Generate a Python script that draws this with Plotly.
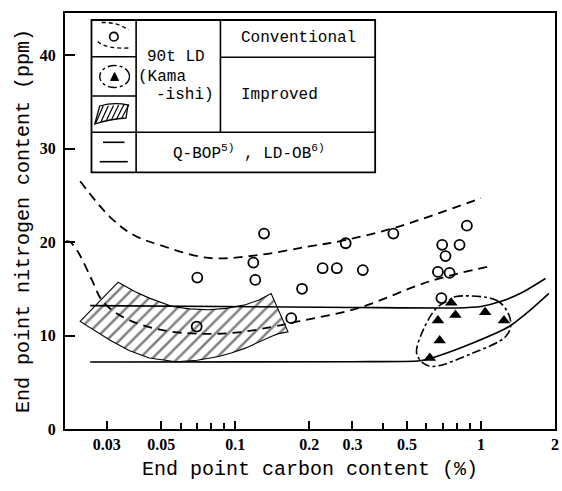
import plotly.graph_objects as go
import numpy as np

# ---------------- data ----------------
conv_x = [0.0701, 0.0697, 0.1185, 0.1207, 0.131, 0.169, 0.187, 0.2268, 0.259, 0.2815,
          0.3305, 0.44, 0.668, 0.69, 0.695, 0.717, 0.745, 0.818, 0.876]
conv_y = [16.2, 10.96, 17.8, 15.95, 20.9, 11.86, 15.0, 17.2, 17.2, 19.87,
          17.0, 20.9, 16.8, 14.0, 19.7, 18.5, 16.7, 19.7, 21.75]

imp_x = [0.619, 0.679, 0.668, 0.757, 0.787, 1.04, 1.24]
imp_y = [7.6, 9.47, 11.6, 13.5, 12.2, 12.5, 11.6]

conv_upper_x = [0.0234, 0.0309, 0.0383, 0.0491, 0.0781, 0.124, 0.197, 0.28, 0.455, 1.0]
conv_upper_y = [26.5, 22.7, 20.8, 19.7, 18.3, 18.6, 19.5, 20.2, 21.6, 24.7]

conv_lower_x = [0.0205, 0.0213, 0.0231, 0.0261, 0.029, 0.036, 0.05, 0.07, 0.1, 0.14, 0.18, 0.3135, 0.619, 1.08]
conv_lower_y = [20.1, 20.0, 18.8, 15.95, 13.6, 11.8, 10.6, 10.2, 10.3, 10.9, 11.5, 12.9, 15.8, 17.4]

imp_loop_x = [0.793, 1.149, 1.281, 1.321, 1.261, 0.926, 0.639, 0.582, 0.547, 0.582, 0.659, 0.745, 0.793]
imp_loop_y = [14.17, 13.8, 12.56, 11.14, 9.89, 8.12, 6.69, 7.05, 8.12, 10.6, 12.93, 13.8, 14.17]

hatch_x = [0.0334, 0.039, 0.0447, 0.05, 0.0555, 0.065, 0.078, 0.092, 0.11, 0.125, 0.14,
           0.164, 0.15, 0.14, 0.125, 0.11, 0.097, 0.0857, 0.07, 0.0573, 0.0447, 0.037, 0.031, 0.027, 0.0234, 0.0334]
hatch_y = [15.7, 14.7, 14.0, 13.5, 13.1, 12.85, 12.75, 12.9, 13.3, 13.8, 14.5,
           10.4, 10.2, 9.9, 9.3, 8.65, 8.15, 7.76, 7.35, 7.2, 7.6, 8.4, 9.5, 10.5, 11.5, 15.7]

qbop_upper_x = [0.0257, 0.3, 0.793, 1.0, 1.19, 1.47, 1.83]
qbop_upper_y = [13.2, 13.0, 12.95, 13.1, 13.6, 14.6, 16.1]

qbop_lower_x = [0.0257, 0.3, 0.564, 0.66, 0.926, 1.30, 1.6, 1.89]
qbop_lower_y = [7.16, 7.2, 7.3, 7.76, 9.19, 10.96, 12.8, 14.5]

x_tickvals = [0.03, 0.05, 0.1, 0.2, 0.3, 0.5, 1, 2]
x_ticktext = ["0.03", "0.05", "0.1", "0.2", "0.3", "0.5", "1", "2"]
x_minor = [0.06, 0.07, 0.08, 0.09, 0.4, 0.6, 0.7, 0.8, 0.9]
y_tickvals = [0, 10, 20, 30, 40]

# ---------------- layout geometry ----------------
W, H = 562, 491
L, R, T, B = 65, 3, 13, 62
PW, PH = W - L - R, H - T - B


def px(x):
    return (x - L) / PW


def py(y):
    return (H - B - y) / PH


MONO = "Liberation Mono, DejaVu Sans Mono, monospace"
SERIF = "Liberation Serif, DejaVu Serif, serif"

fig = go.Figure()

dashstyle = "9px,6px"

fig.add_trace(go.Scatter(x=hatch_x, y=hatch_y, mode="lines", fill="toself",
                         fillcolor="rgba(0,0,0,0)",
                         fillpattern=dict(shape="/", fgcolor="black", bgcolor="rgba(0,0,0,0)",
                                          size=9, solidity=0.28),
                         line=dict(color="black", width=1.1),
                         hoverinfo="skip"))

fig.add_trace(go.Scatter(x=conv_upper_x, y=conv_upper_y, mode="lines",
                         line=dict(color="black", width=1.8, dash=dashstyle, shape="spline")))
fig.add_trace(go.Scatter(x=conv_lower_x, y=conv_lower_y, mode="lines",
                         line=dict(color="black", width=1.8, dash=dashstyle, shape="spline")))

fig.add_trace(go.Scatter(x=qbop_upper_x, y=qbop_upper_y, mode="lines",
                         line=dict(color="black", width=1.6, shape="spline", smoothing=0.6)))
fig.add_trace(go.Scatter(x=qbop_lower_x, y=qbop_lower_y, mode="lines",
                         line=dict(color="black", width=1.6, shape="spline", smoothing=0.6)))

fig.add_trace(go.Scatter(x=imp_loop_x, y=imp_loop_y, mode="lines",
                         line=dict(color="black", width=1.6, dash="dashdot", shape="spline")))

fig.add_trace(go.Scatter(x=conv_x, y=conv_y, mode="markers",
                         marker=dict(symbol="circle-open", size=10, color="black",
                                     line=dict(width=1.8, color="black"))))
fig.add_trace(go.Scatter(x=imp_x, y=imp_y, mode="markers",
                         marker=dict(symbol="triangle-up", size=11, color="black")))

# ---------------- legend table ----------------
shapes = []


def seg(x0, y0, x1, y1, w=1.6, dash=None):
    d = dict(type="line", xref="paper", yref="paper", x0=px(x0), y0=py(y0), x1=px(x1), y1=py(y1),
             line=dict(color="black", width=w))
    if dash:
        d["line"]["dash"] = dash
    shapes.append(d)


tl, tr, tt, tb = 91.7, 377.7, 20, 172.3
c1, c2 = 136.7, 221.7
shapes.append(dict(type="rect", xref="paper", yref="paper", x0=px(tl), x1=px(tr), y0=py(tb), y1=py(tt),
                   line=dict(color="black", width=1.8), fillcolor="white", layer="above"))
seg(c1, tt, c1, tb)
seg(c2, tt, c2, 132.3)
seg(tl, 56.7, c1, 56.7)
seg(tl, 96, c1, 96)
seg(tl, 132.3, tr, 132.3)
seg(c2, 57.3, tr, 57.3)

# icon 1: circle with dashed arcs
shapes.append(dict(type="circle", xref="paper", yref="paper", x0=px(110), x1=px(118.6),
                   y0=py(41), y1=py(32.4), line=dict(color="black", width=1.6)))


def qpath(p0, c, p1):
    return "M %f,%f Q %f,%f %f,%f" % (px(p0[0]), py(p0[1]), px(c[0]), py(c[1]), px(p1[0]), py(p1[1]))


shapes.append(dict(type="path", xref="paper", yref="paper", path=qpath((102, 22.5), (118, 22), (129, 30)),
                   line=dict(color="black", width=1.4, dash="4px,3px")))
shapes.append(dict(type="path", xref="paper", yref="paper", path=qpath((98, 41.5), (106, 49), (129, 48)),
                   line=dict(color="black", width=1.4, dash="4px,3px")))

# icon 2: dash-dot ellipse with triangle
shapes.append(dict(type="circle", xref="paper", yref="paper", x0=px(100), x1=px(130),
                   y0=py(87.5), y1=py(65.5), line=dict(color="black", width=1.4, dash="dashdot")))
shapes.append(dict(type="path", xref="paper", yref="paper",
                   path="M %f,%f L %f,%f L %f,%f Z" % (px(111), py(80.5), px(119), py(80.5), px(115), py(72.5)),
                   fillcolor="black", line=dict(color="black", width=1)))

# icon 3: hatched patch
shapes.append(dict(type="path", xref="paper", yref="paper",
                   path="M %f,%f Q %f,%f %f,%f L %f,%f Q %f,%f %f,%f Z" % (
                       px(100), py(106), px(114), py(102), px(128.5), py(105),
                       px(126.5), py(118), px(110), py(119), px(95), py(124)),
                   line=dict(color="black", width=1.3)))
for k in range(6):
    x0 = 96 + k * 5.2
    seg(x0, 123 - k * 0.9, x0 + 7.5, 106 - k * 0.3, w=1.2)

# icon 4: two lines
seg(103.3, 142.3, 125, 142.3)
seg(100, 161.7, 128.3, 161.7)

annotations = []


def txt(x, y, s, xanchor="center", size=16):
    annotations.append(dict(x=px(x), y=py(y), xref="paper", yref="paper", text=s, showarrow=False,
                            xanchor=xanchor, yanchor="middle",
                            font=dict(family=MONO, size=size, color="black")))


txt(177, 56.7, "90t LD")
txt(136.5, 76.7, "(Kama", xanchor="left")
txt(155, 95, "-ishi)", xanchor="left")
txt(300, 38.3, "Conventional")
txt(281.7, 95, "Improved")
txt(250, 152, "Q-BOP<sup>5)</sup> , LD-OB<sup>6)</sup>")

fig.update_layout(
    width=W, height=H,
    margin=dict(l=L, r=R, t=T, b=B),
    paper_bgcolor="white", plot_bgcolor="white",
    showlegend=False,
    shapes=shapes,
    annotations=annotations,
    xaxis=dict(type="log", range=[np.log10(0.0203), np.log10(2.0)],
               tickvals=x_tickvals, ticktext=x_ticktext,
               ticks="inside", ticklen=8, tickwidth=1.5, tickcolor="black",
               minor=dict(tickvals=x_minor, ticks="inside", ticklen=6, tickwidth=1.5, tickcolor="black"),
               showgrid=False, zeroline=False,
               showline=True, linecolor="black", linewidth=2, mirror=True,
               tickfont=dict(family=SERIF, size=16, color="black", weight="bold"),
               title=dict(text="End point carbon content (%)",
                          font=dict(family=MONO, size=20, color="black"), standoff=9)),
    yaxis=dict(range=[0, 44.5], tickvals=y_tickvals,
               ticks="inside", ticklen=10, tickwidth=1.5, tickcolor="black",
               showgrid=False, zeroline=False,
               showline=True, linecolor="black", linewidth=2, mirror=True,
               ticklabelstandoff=4,
               tickfont=dict(family=SERIF, size=16, color="black", weight="bold"),
               title=dict(text="End point nitrogen content (ppm)",
                          font=dict(family=MONO, size=20, color="black"), standoff=5)),
)

fig.write_html("out.html")
